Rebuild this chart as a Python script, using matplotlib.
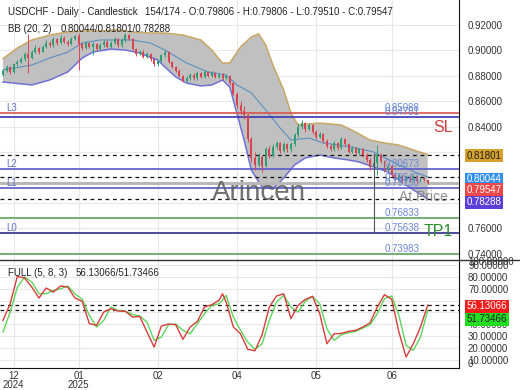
import matplotlib
matplotlib.use("Agg")
import matplotlib.pyplot as plt
from matplotlib.transforms import blended_transform_factory

plt.rcParams['font.family'] = ['Liberation Sans', 'DejaVu Sans']

W, H = 520, 390          # output size in pixels (dpi 100)

# ---- daily candles ---------------------------------------------------------
opens = [
    0.8810, 0.8840, 0.8870, 0.8830, 0.8890, 0.8910, 0.8930, 0.8970, 0.8940, 0.8990,
    0.9020, 0.8990, 0.9030, 0.9060, 0.9040, 0.9090, 0.9060, 0.9100, 0.9070, 0.9050,
    0.9090, 0.9110, 0.9050, 0.9020, 0.9060, 0.9030, 0.9050, 0.9010, 0.9040, 0.9070,
    0.9030, 0.9060, 0.9090, 0.9040, 0.9080, 0.9120, 0.9090, 0.9010, 0.8970, 0.8990,
    0.8950, 0.8970, 0.8930, 0.8890, 0.8920, 0.8960, 0.8990, 0.8910, 0.8870, 0.8840,
    0.8800, 0.8760, 0.8780, 0.8810, 0.8780, 0.8820, 0.8790, 0.8830, 0.8800, 0.8820,
    0.8790, 0.8810, 0.8780, 0.8800, 0.8740, 0.8660, 0.8570, 0.8520, 0.8490, 0.8300,
    0.8150, 0.8100, 0.8160, 0.8090, 0.8220, 0.8170, 0.8240, 0.8270, 0.8210, 0.8260,
    0.8220, 0.8260, 0.8330, 0.8400, 0.8430, 0.8380, 0.8410, 0.8360, 0.8320, 0.8340,
    0.8290, 0.8250, 0.8220, 0.8270, 0.8230, 0.8300, 0.8260, 0.8200, 0.8230, 0.8190,
    0.8220, 0.8180, 0.8140, 0.8080, 0.8110, 0.8180, 0.8130, 0.8060, 0.8090, 0.8020,
    0.7990, 0.8010, 0.7970, 0.8000, 0.7980, 0.8010, 0.7970, 0.7990, 0.79806,
]
highs = [
    0.8855, 0.8885, 0.8880, 0.8900, 0.8925, 0.8950, 0.8985, 0.9130, 0.9005, 0.9040,
    0.9030, 0.9045, 0.9080, 0.9075, 0.9105, 0.9100, 0.9120, 0.9110, 0.9085, 0.9105,
    0.9125, 0.9140, 0.9065, 0.9075, 0.9070, 0.9065, 0.9060, 0.9055, 0.9085, 0.9080,
    0.9075, 0.9105, 0.9100, 0.9095, 0.9140, 0.9130, 0.9100, 0.9020, 0.9005, 0.9000,
    0.8985, 0.8980, 0.8940, 0.8935, 0.8975, 0.9005, 0.8995, 0.8920, 0.8880, 0.8850,
    0.8810, 0.8795, 0.8825, 0.8820, 0.8835, 0.8830, 0.8845, 0.8840, 0.8835, 0.8830,
    0.8825, 0.8820, 0.8815, 0.8810, 0.8750, 0.8670, 0.8600, 0.8560, 0.8500, 0.8320,
    0.8200, 0.8190, 0.8180, 0.8240, 0.8250, 0.8260, 0.8290, 0.8280, 0.8275, 0.8270,
    0.8280, 0.8350, 0.8430, 0.8450, 0.8440, 0.8430, 0.8420, 0.8370, 0.8360, 0.8350,
    0.8300, 0.8265, 0.8290, 0.8280, 0.8320, 0.8310, 0.8270, 0.8245, 0.8240, 0.8235,
    0.8230, 0.8190, 0.8150, 0.8130, 0.8255, 0.8190, 0.8140, 0.8110, 0.8100, 0.8035,
    0.8025, 0.8020, 0.8015, 0.8010, 0.8025, 0.8020, 0.8005, 0.8000, 0.79806,
]
lows = [
    0.8800, 0.8830, 0.8815, 0.8825, 0.8880, 0.8900, 0.8920, 0.8825, 0.8930, 0.8980,
    0.8975, 0.8985, 0.9020, 0.9030, 0.9030, 0.9045, 0.9050, 0.9060, 0.9035, 0.9040,
    0.9080, 0.8845, 0.9005, 0.9010, 0.9015, 0.8960, 0.9000, 0.9000, 0.9030, 0.9020,
    0.9020, 0.9050, 0.9025, 0.9030, 0.9070, 0.9080, 0.9000, 0.8955, 0.8960, 0.8940,
    0.8940, 0.8920, 0.8875, 0.8880, 0.8910, 0.8950, 0.8900, 0.8860, 0.8830, 0.8790,
    0.8750, 0.8750, 0.8770, 0.8770, 0.8770, 0.8780, 0.8780, 0.8790, 0.8790, 0.8780,
    0.8780, 0.8770, 0.8770, 0.8730, 0.8650, 0.8550, 0.8500, 0.8460, 0.8280, 0.8120,
    0.8060, 0.8090, 0.8045, 0.8080, 0.8150, 0.8160, 0.8220, 0.8190, 0.8200, 0.8200,
    0.8200, 0.8250, 0.8320, 0.8380, 0.8360, 0.8370, 0.8340, 0.8300, 0.8310, 0.8270,
    0.8235, 0.8205, 0.8210, 0.8215, 0.8220, 0.8245, 0.8190, 0.8190, 0.8175, 0.8180,
    0.8160, 0.8120, 0.8060, 0.8060, 0.8020, 0.8110, 0.8040, 0.8040, 0.8000, 0.7970,
    0.7975, 0.7955, 0.7960, 0.7965, 0.7970, 0.7955, 0.7960, 0.7970, 0.79510,
]
closes = [
    0.8840, 0.8870, 0.8830, 0.8890, 0.8910, 0.8930, 0.8970, 0.8940, 0.8990, 0.9020,
    0.8990, 0.9030, 0.9060, 0.9040, 0.9090, 0.9060, 0.9100, 0.9070, 0.9050, 0.9090,
    0.9110, 0.9050, 0.9020, 0.9060, 0.9030, 0.9050, 0.9010, 0.9040, 0.9070, 0.9030,
    0.9060, 0.9090, 0.9040, 0.9080, 0.9120, 0.9090, 0.9010, 0.8970, 0.8990, 0.8950,
    0.8970, 0.8930, 0.8890, 0.8920, 0.8960, 0.8990, 0.8910, 0.8870, 0.8840, 0.8800,
    0.8760, 0.8780, 0.8810, 0.8780, 0.8820, 0.8790, 0.8830, 0.8800, 0.8820, 0.8790,
    0.8810, 0.8780, 0.8800, 0.8740, 0.8660, 0.8570, 0.8520, 0.8490, 0.8300, 0.8150,
    0.8100, 0.8160, 0.8090, 0.8220, 0.8170, 0.8240, 0.8270, 0.8210, 0.8260, 0.8220,
    0.8260, 0.8330, 0.8400, 0.8430, 0.8380, 0.8410, 0.8360, 0.8320, 0.8340, 0.8290,
    0.8250, 0.8220, 0.8270, 0.8230, 0.8300, 0.8260, 0.8200, 0.8230, 0.8190, 0.8220,
    0.8180, 0.8140, 0.8080, 0.8110, 0.8180, 0.8130, 0.8060, 0.8090, 0.8020, 0.7990,
    0.8010, 0.7970, 0.8000, 0.7980, 0.8010, 0.7970, 0.7990, 0.7981, 0.79547,
]

# ---- Bollinger band (20, 2) -------------------------------------------------
bb_up_idx = [0, 4, 8, 13, 18, 22, 27, 32, 36, 41, 45, 50, 55, 58, 61, 63,
             66, 69, 71, 73, 75, 78, 80, 82, 88, 94, 98, 102, 106, 110, 114, 118]
bb_up = [0.8935, 0.9019, 0.9082, 0.9121, 0.9145, 0.9153, 0.9153, 0.9161,
         0.9145, 0.9137, 0.9137, 0.9121, 0.9082, 0.9003, 0.8901, 0.8901,
         0.9027, 0.9106, 0.9130, 0.9043, 0.8885, 0.8688, 0.8507, 0.8413,
         0.8428, 0.8413, 0.8357, 0.8294, 0.8271, 0.8255, 0.8216, 0.81801]
bb_lo_idx = [0, 8, 13, 18, 22, 25, 30, 34, 38, 43, 45, 48, 51, 55, 58, 61, 63,
             64, 67, 69, 72, 75, 78, 81, 84, 88, 92, 96, 99, 103, 107, 110, 114, 118]
bb_lo = [0.8751, 0.8728, 0.8767, 0.8830, 0.8940, 0.8987, 0.9011, 0.9003,
         0.8980, 0.8924, 0.8869, 0.8791, 0.8743, 0.8720, 0.8728, 0.8767, 0.8712,
         0.8609, 0.8294, 0.8058, 0.7924, 0.7909, 0.7995, 0.8098, 0.8153,
         0.8176, 0.8153, 0.8137, 0.8121, 0.8082, 0.8043, 0.7980, 0.7902, 0.78288]
bb_mid_idx = [0, 8, 13, 18, 22, 27, 36, 41, 45, 51, 57, 62, 65, 69, 73, 77,
              80, 85, 89, 97, 103, 110, 115, 118]
bb_mid = [0.8846, 0.8885, 0.8940, 0.8987, 0.9058, 0.9082, 0.9082, 0.9058,
          0.9003, 0.8901, 0.8830, 0.8806, 0.8728, 0.8665, 0.8531, 0.8389,
          0.8294, 0.8310, 0.8271, 0.8239, 0.8200, 0.8098, 0.8035, 0.80044]

# ---- stochastic FULL (5, 8, 3) -----------------------------------------------
st_idx = [0, 2, 4, 6, 8, 10, 12, 14, 16, 18, 20, 22, 24, 26, 28, 30, 32, 34, 36,
          38, 40, 42, 44, 46, 48, 50, 52, 54, 56, 58, 60, 61, 62, 64, 66, 68, 70,
          72, 74, 76, 78, 80, 82, 84, 86, 88, 90, 92, 94, 96, 98, 100, 102, 104,
          106, 108, 110, 112, 114, 116, 118]
st_k = [43.4, 57.4, 80.5, 79.0, 71.4, 62.2, 70.6, 67.2, 72.3, 71.4,
        62.2, 59.4, 40.6, 39.2, 50.4, 53.2, 51.2, 51.0, 46.2, 46.7,
        33.6, 20.9, 38.6, 40.3, 39.7, 27.4, 37.8, 42.5, 54.6, 56.6,
        60.2, 65.8, 58.8, 37.8, 32.1, 19.0, 17.8, 31.3, 54.6, 63.9,
        65.8, 44.8, 56.0, 61.1, 63.6, 49.0, 23.7, 32.1, 32.4, 34.1,
        35.0, 37.8, 41.4, 54.6, 65.0, 61.1, 33.6, 12.5, 23.7, 37.8,
        56.13066]
st_d = [33.6, 50.4, 71.4, 79.9, 75.7, 65.8, 65.8, 68.6, 70.0, 72.3,
        65.8, 61.1, 47.6, 37.8, 43.4, 54.6, 51.8, 51.0, 48.4, 47.0,
        42.0, 26.5, 29.3, 39.7, 40.3, 35.0, 32.1, 40.6, 49.0, 56.0,
        57.4, 60.5, 64.4, 46.2, 35.0, 25.1, 19.0, 23.7, 43.4, 58.8,
        64.4, 54.6, 50.4, 59.4, 63.6, 57.4, 36.4, 26.5, 31.3, 33.0,
        34.1, 36.9, 39.7, 49.0, 61.6, 63.9, 47.6, 22.3, 18.1, 29.3,
        51.73466]

# ---- trade levels ------------------------------------------------------------
level_prices = [0.85088, 0.84781, 0.80673, 0.79150, 0.76833, 0.75638, 0.73983]
level_colors = ["#d9534f", "#3636b0", "#5858c8", "#5858c8", "#5fa35f", "#2b2b86", "#5fa35f"]
level_names = {0.85088: "L3", 0.80673: "L2", 0.79150: "L1", 0.75638: "L0"}
bb_last = [0.81801, 0.80044, 0.78288]       # dashed, upper / mid / lower
last_close = 0.79547
entry_idx, entry_top = 103, 0.8195

month_pos = [3, 21, 43, 65, 87, 108]
month_lab = ["12\n2024", "01\n2025", "02", "04", "05", "06"]
price_ticks = [0.74, 0.76, 0.78, 0.80, 0.82, 0.84, 0.86, 0.88, 0.90, 0.92]
price_hidden = [0.78, 0.80, 0.82]            # covered by the price tags
osc_ticks = [10, 20, 30, 40, 50, 60, 70, 80, 90]
osc_hidden = [50, 60]

UP, DN = "#2f9e73", "#d9434f"
XL = (-0.83, 126.7)


def px(x, y):
    return x / W, 1 - y / H


fig = plt.figure(figsize=(W / 100, H / 100), dpi=100)
ax = fig.add_axes([0, 1 - 260 / H, 459 / W, 260 / H])
ao = fig.add_axes([0, 1 - 368 / H, 459 / W, 108 / H])

for a in (ax, ao):
    a.set_xlim(*XL)
    for s in ("top", "left", "bottom"):
        a.spines[s].set_visible(False)
    a.spines["right"].set_color("#111")
    a.yaxis.tick_right()
    a.tick_params(axis="y", length=0, pad=6.5, labelsize=7, labelcolor="#333")
    a.set_xticks(month_pos)
    a.grid(True, color="#e8e8e8", lw=0.8)
    a.set_axisbelow(True)
ao.spines["bottom"].set_visible(True)
ao.spines["bottom"].set_color("#111")

# main panel
ax.set_ylim(0.73496, 0.93969)
ax.set_yticks(price_ticks)
ax.set_yticklabels(["" if v in price_hidden else f"{v:.5f}" for v in price_ticks])
ax.tick_params(axis="x", length=0, labelbottom=False)

ax.fill(bb_up_idx + bb_lo_idx[::-1], bb_up + bb_lo[::-1], fc="#c0c0c0", ec="none", zorder=1)
ax.plot(bb_up_idx, bb_up, color="#c9a765", lw=1.1, zorder=2)
ax.plot(bb_lo_idx, bb_lo, color="#7070d8", lw=1.1, zorder=2)
ax.plot(bb_mid_idx, bb_mid, color="#5b8fc0", lw=0.8, zorder=2)

idx = list(range(len(closes)))
cols = [UP if c >= o else DN for o, c in zip(opens, closes)]
ax.vlines(idx, lows, highs, colors=cols, lw=0.7, zorder=4)
body = [max(abs(c - o), 0.0004) for o, c in zip(opens, closes)]
ax.bar(idx, body, bottom=[min(o, c) for o, c in zip(opens, closes)],
       width=0.5, color=cols, lw=0, zorder=4)

blend = blended_transform_factory(ax.transAxes, ax.transData)
for p, col in zip(level_prices, level_colors):
    ax.axhline(p, color=col, lw=1.2, zorder=3)
    ax.text(385 / 459, p, f"{p:.5f}", transform=blend, color="#6b86d6",
            fontsize=7, va="bottom", ha="left", zorder=5)
    if p in level_names:
        ax.text(6 / 459, p, level_names[p], transform=blend, color="#6272c4",
                fontsize=7, va="bottom", ha="left", zorder=5)
for p in bb_last:
    ax.axhline(p, color="#111", lw=0.9, ls=(0, (3, 3)), zorder=3)
ax.axhline(last_close, color="#b8b8b8", lw=2.2, zorder=3)
ax.text(385 / 459, last_close, f"{last_close:.5f}", transform=blend, color="#6b86d6",
        fontsize=7, va="bottom", ha="left", zorder=5)
ax.vlines(entry_idx, level_prices[5], entry_top, color="#555", lw=0.8, zorder=4)

# price tags on the axis
tags = [(0.81801, "#d4a22c", "#222", -0.7), (0.80044, "#2f8ef0", "white", -1.6),
        (0.79547, "#f04848", "white", -4.8), (0.78288, "#5a3fd8", "white", -2.1)]
for p, fc, tc, dy in tags:
    ax.annotate(f"{p:.5f}", xy=(1, p), xycoords=blend, xytext=(5.5, dy),
                textcoords="offset points", va="center", ha="left", fontsize=7,
                color=tc, zorder=10, annotation_clip=False,
                bbox=dict(boxstyle="square,pad=0.15", fc=fc, ec="none"))

# oscillator panel
ao.set_ylim(3.26, 94.21)
ao.set_yticks(osc_ticks)
ao.set_yticklabels(["" if v in osc_hidden else f"{v:.5f}" for v in osc_ticks])
ao.set_xticklabels(month_lab)
ao.tick_params(axis="x", length=0, pad=2, labelsize=7, labelcolor="#333")
for t in ao.get_xticklabels():
    t.set_linespacing(0.95)
ao.plot(st_idx, st_d, color="#5cd65c", lw=1.0, zorder=3)
ao.plot(st_idx, st_k, color="#d83c3c", lw=1.0, zorder=4)
for v in (st_k[-1], st_d[-1]):
    ao.axhline(v, color="#111", lw=0.9, ls=(0, (3, 3)), zorder=2)
oblend = blended_transform_factory(ao.transAxes, ao.transData)
for v, fc, tc, dy in [(st_k[-1], "#f01c1c", "white", -0.9), (st_d[-1], "#22dd22", "#222", -6.5)]:
    ao.annotate(f"{v:.5f}", xy=(1, v), xycoords=oblend, xytext=(5.5, dy),
                textcoords="offset points", va="center", ha="left", fontsize=7,
                color=tc, zorder=10, annotation_clip=False,
                bbox=dict(boxstyle="square,pad=0.15", fc=fc, ec="none"))
fig.text(*px(468, 262), "100.00000", fontsize=7, color="#333", va="center")
fig.text(*px(468, 364), "0", fontsize=7, color="#333", va="center")

# separator between panels
fig.add_artist(plt.Line2D([0, 1], [1 - 260 / H] * 2, color="#333", lw=1))

# headers and overlays
fig.text(*px(8, 12), "USDCHF - Daily - Candlestick", fontsize=7, color="#222", va="center")
fig.text(*px(145, 12), "154/174 - O:0.79806 - H:0.79806 - L:0.79510 - C:0.79547",
         fontsize=7, color="#222", va="center")
fig.text(*px(8, 29), "BB (20, 2)", fontsize=7, color="#222", va="center")
fig.text(*px(61, 29), "0.80044/0.81801/0.78288", fontsize=7, color="#222", va="center")
fig.text(*px(8, 273), "FULL (5, 8, 3)", fontsize=7, color="#222", va="center")
fig.text(*px(76, 273), "56.13066/51.73466", fontsize=7, color="#222", va="center")
fig.text(*px(212, 193), "Arincen", fontsize=20, color="#5a5a5a", alpha=0.85, va="center")
fig.text(*px(399, 197), "At Price", fontsize=10, color="#808080", alpha=0.9, va="center")
fig.text(*px(433, 127), "SL", fontsize=11.5, color="#d23c3c", va="center")
fig.text(*px(424, 232), "TP1", fontsize=11.5, color="#2e8b2e", va="center")

fig.savefig("out.png", dpi=100)
